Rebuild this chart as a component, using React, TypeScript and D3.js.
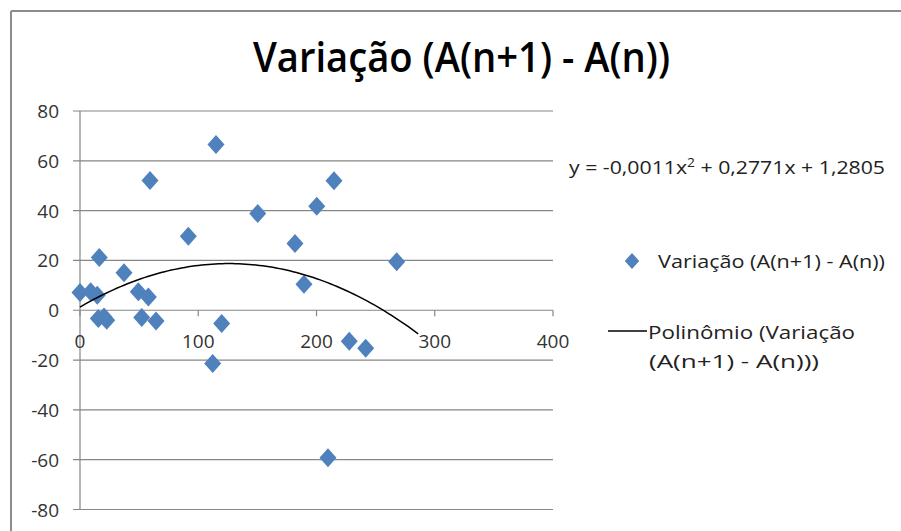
import React from "react";
import * as d3 from "d3";

const title = "Variação (A(n+1) - A(n))";
const seriesName = "Variação (A(n+1) - A(n))";
const trendNameLines = ["Polinômio (Variação", "(A(n+1) - A(n)))"];

const xValues = [0, 9, 14.6, 16.3, 37.2, 49.3, 57.8, 15.5, 22.6, 20.3, 52.2, 64.3, 59.2, 91.6, 115, 119.8, 112.2, 150.3, 181.8, 189.4, 200.2, 214.8, 209.7, 227.7, 241.6, 267.8];
const yValues = [7.1, 7.4, 6, 21.2, 15.1, 7.4, 5.3, -3.3, -4, -2.7, -2.9, -4.3, 52.1, 29.7, 66.5, -5.3, -21.4, 38.8, 26.8, 10.4, 41.8, 52, -59.2, -12.4, -15.3, 19.5];

const trendCoef = [-0.0011, 0.2771, 1.2805];
const trendRange = [0, 286];

const xTicks = [0, 100, 200, 300, 400];
const yTicks = [-80, -60, -40, -20, 0, 20, 40, 60, 80];

const W = 901;
const H = 531;
const FONT = "'Open Sans', 'Noto Sans', sans-serif";
const BLUE = "#4F81BD";
const GRID = "#868686";

export default function App() {
  const x = d3.scaleLinear().domain([0, 400]).range([80, 553]);
  const y = d3.scaleLinear().domain([-80, 80]).range([509.5, 111]);

  const pts = xValues.map((v, i) => ({ x: v, y: yValues[i] }));
  const steps = d3.range(0, 101).map((i) => trendRange[0] + ((trendRange[1] - trendRange[0]) * i) / 100);
  const trend = steps.map((t) => [t, trendCoef[0] * t * t + trendCoef[1] * t + trendCoef[2]] as [number, number]);
  const line = d3.line<[number, number]>().x((d) => x(d[0])).y((d) => y(d[1]));
  const diamond = (cx: number, cy: number, s = 1) =>
    `M${cx},${cy - 9.5 * s}L${cx + 8.5 * s},${cy}L${cx},${cy + 9.5 * s}L${cx - 8.5 * s},${cy}Z`;

  return (
    <svg width={W} height={H} style={{ position: "absolute", left: 0, top: 0, background: "#fff" }}>
      <rect x={0} y={0} width={W} height={H} fill="#fff" />
      <line x1={11} y1={11} x2={W} y2={11} stroke="#8c8c8c" strokeWidth={2} />
      <line x1={11} y1={11} x2={11} y2={H} stroke="#8c8c8c" strokeWidth={2} />

      <text x={253} y={72} fontFamily={FONT} fontSize={42} fontWeight={600} fill="#000" textLength={417} lengthAdjust="spacingAndGlyphs">
        {title}
      </text>

      {yTicks.map((t) => (
        <g key={"y" + t}>
          <line x1={x(0) - 7} x2={x(400)} y1={y(t)} y2={y(t)} stroke={GRID} strokeWidth={1.2} />
          <text x={59} y={y(t) + 7} textAnchor="end" fontFamily={FONT} fontSize={19} fill="#333">
            {t}
          </text>
        </g>
      ))}
      <line x1={x(0)} x2={x(0)} y1={y(80)} y2={y(-80)} stroke={GRID} strokeWidth={1.2} />
      {xTicks.map((t) => (
        <g key={"x" + t}>
          <line x1={x(t)} x2={x(t)} y1={y(0)} y2={y(0) + 6} stroke={GRID} strokeWidth={1.2} />
          <text x={x(t)} y={y(0) + 38} textAnchor="middle" fontFamily={FONT} fontSize={19} fill="#333">
            {t}
          </text>
        </g>
      ))}

      {pts.map((p, i) => (
        <path key={i} d={diamond(x(p.x), y(p.y))} fill={BLUE} />
      ))}

      <path d={line(trend) || ""} fill="none" stroke="#000" strokeWidth={1.5} />

      <text x={569} y={174} fontFamily={FONT} fontSize={18.5} fill="#222" textLength={316} lengthAdjust="spacingAndGlyphs">
        y = -0,0011x<tspan fontSize={12} dy={-7}>2</tspan>
        <tspan dy={7}> + 0,2771x + 1,2805</tspan>
      </text>

      <path d={diamond(632, 261, 0.85)} fill={BLUE} />
      <text x={658} y={268} fontFamily={FONT} fontSize={18.5} fill="#222" textLength={227} lengthAdjust="spacingAndGlyphs">
        {seriesName}
      </text>

      <line x1={608} x2={647} y1={331} y2={331} stroke="#000" strokeWidth={1.5} />
      <text x={648} y={339} fontFamily={FONT} fontSize={18.5} fill="#222" textLength={207} lengthAdjust="spacingAndGlyphs">
        {trendNameLines[0]}
      </text>
      <text x={649} y={368} fontFamily={FONT} fontSize={18.5} fill="#222" textLength={170} lengthAdjust="spacingAndGlyphs">
        {trendNameLines[1]}
      </text>
    </svg>
  );
}
